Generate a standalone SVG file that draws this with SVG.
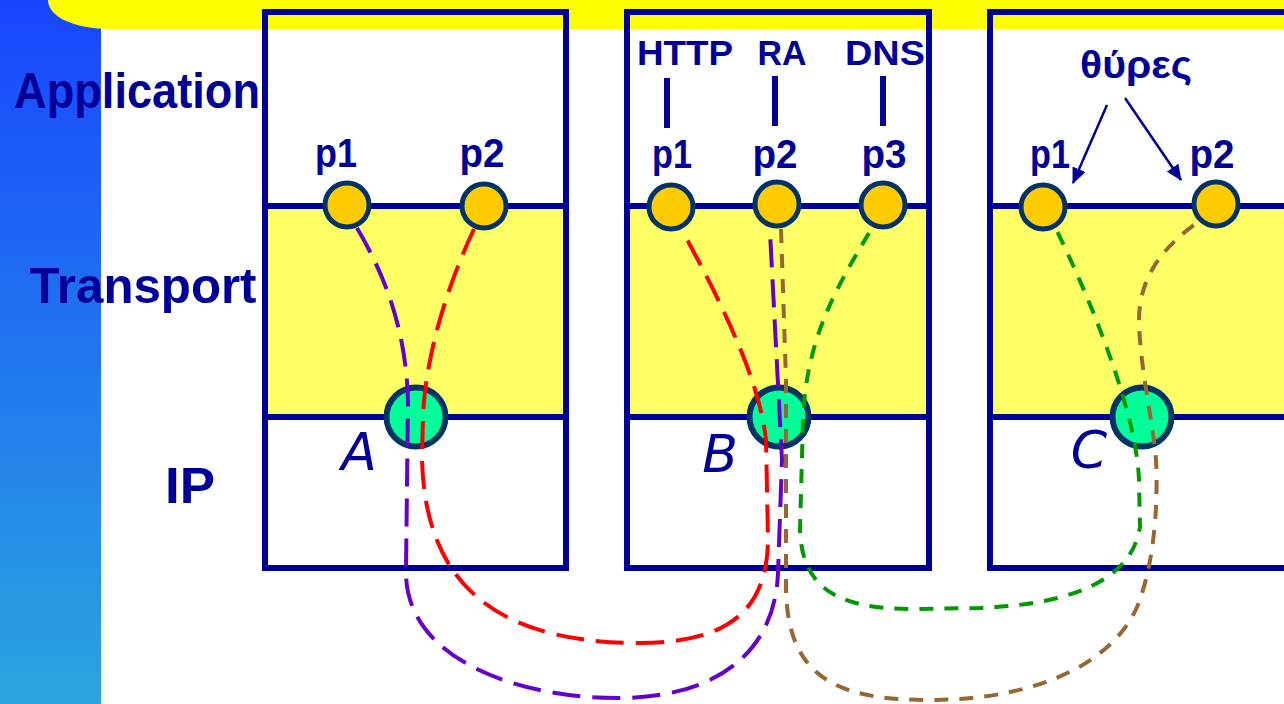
<svg xmlns="http://www.w3.org/2000/svg" width="1284" height="704" viewBox="0 0 1284 704">
<defs>
<linearGradient id="band" x1="0" y1="0" x2="0" y2="1">
<stop offset="0" stop-color="#1846ff"/>
<stop offset="1" stop-color="#2aa6df"/>
</linearGradient>
<marker id="ah" markerWidth="16" markerHeight="14" refX="15" refY="7" orient="auto" markerUnits="userSpaceOnUse">
<path d="M0,0 L16,7 L0,14 Z" fill="#000099"/>
</marker>
<style>
.lbl{font-family:"Liberation Sans","DejaVu Sans",sans-serif;font-weight:bold;fill:#000099;text-anchor:middle}
.big{font-size:50px}
.port{font-size:40px}
.proto{font-size:35px}
.greek{font-size:38px}
.node{font-family:"DejaVu Sans","Liberation Sans",sans-serif;font-style:italic;font-size:52px;fill:#000099;text-anchor:middle}
.box{fill:none;stroke:#000099;stroke-width:6}
.tr{fill:#ffff66}
.div{stroke:#000099;stroke-width:6}
.pt{fill:#ffcc00;stroke:#003366;stroke-width:5}
.ip{fill:#00ff99;stroke:#003366;stroke-width:6}
.c{fill:none;stroke-width:4}
.long{stroke-dasharray:28 12}
.short{stroke-dasharray:14 11}
.bar{stroke:#000099;stroke-width:6}
.arr{stroke:#000099;stroke-width:2.5;fill:none}
</style>
</defs>
<rect width="1284" height="704" fill="#ffffff"/>
<rect x="0" y="0" width="101" height="704" fill="url(#band)"/>
<rect class="tr" x="265" y="206" width="301" height="211"/>
<rect class="tr" x="627" y="206" width="302" height="211"/>
<rect class="tr" x="990" y="206" width="300" height="211"/>
<path d="M48 0 H1284 V29 H112 C72 29 48 16 48 0 Z" fill="#ffff00"/>
<g id="layers">
<text class="lbl big" x="137" y="108" textLength="246" lengthAdjust="spacingAndGlyphs">Application</text>
<text class="lbl big" x="143" y="303" textLength="227" lengthAdjust="spacingAndGlyphs">Transport</text>
<text class="lbl big" x="190" y="503" textLength="50" lengthAdjust="spacingAndGlyphs">IP</text>
</g>
<g id="hostA">
<rect class="box" x="265" y="12" width="301" height="556"/>
<line class="div" x1="265" y1="206" x2="566" y2="206"/>
<line class="div" x1="265" y1="417" x2="566" y2="417"/>
<circle class="pt" cx="347" cy="205" r="22"/>
<circle class="pt" cx="484" cy="206" r="22"/>
<circle class="ip" cx="416" cy="417" r="29.5"/>
<text class="lbl port" x="336" y="167" textLength="42" lengthAdjust="spacingAndGlyphs">p1</text>
<text class="lbl port" x="482" y="167" textLength="45" lengthAdjust="spacingAndGlyphs">p2</text>
<text class="node" x="359" y="470">A</text>
</g>
<g id="hostB">
<rect class="box" x="627" y="12" width="302" height="556"/>
<line class="div" x1="627" y1="206" x2="929" y2="206"/>
<line class="div" x1="627" y1="417" x2="929" y2="417"/>
<circle class="pt" cx="671" cy="207" r="22"/>
<circle class="pt" cx="777" cy="204" r="22"/>
<circle class="pt" cx="883" cy="205" r="22"/>
<circle class="ip" cx="779" cy="417" r="29.5"/>
<text class="lbl proto" x="685" y="65" textLength="96" lengthAdjust="spacingAndGlyphs">HTTP</text>
<text class="lbl proto" x="782" y="65" textLength="49" lengthAdjust="spacingAndGlyphs">RA</text>
<text class="lbl proto" x="885" y="65" textLength="80" lengthAdjust="spacingAndGlyphs">DNS</text>
<line class="bar" x1="667" y1="78" x2="667" y2="128"/>
<line class="bar" x1="775" y1="76" x2="775" y2="126"/>
<line class="bar" x1="883" y1="76" x2="883" y2="126"/>
<text class="lbl port" x="672" y="168" textLength="40" lengthAdjust="spacingAndGlyphs">p1</text>
<text class="lbl port" x="775" y="168" textLength="45" lengthAdjust="spacingAndGlyphs">p2</text>
<text class="lbl port" x="884" y="168" textLength="45" lengthAdjust="spacingAndGlyphs">p3</text>
<text class="node" x="720" y="472">B</text>
</g>
<g id="hostC">
<rect class="box" x="990" y="12" width="310" height="556"/>
<line class="div" x1="990" y1="206" x2="1290" y2="206"/>
<line class="div" x1="990" y1="417" x2="1290" y2="417"/>
<circle class="pt" cx="1043" cy="207" r="22"/>
<circle class="pt" cx="1216" cy="204" r="22"/>
<circle class="ip" cx="1142" cy="417" r="29.5"/>
<text class="lbl greek" x="1136" y="78" textLength="112" lengthAdjust="spacingAndGlyphs">θύρες</text>
<line class="arr" x1="1107" y1="105" x2="1073" y2="183" marker-end="url(#ah)"/>
<line class="arr" x1="1125" y1="98" x2="1181" y2="180" marker-end="url(#ah)"/>
<text class="lbl port" x="1050" y="168" textLength="40" lengthAdjust="spacingAndGlyphs">p1</text>
<text class="lbl port" x="1212" y="168" textLength="45" lengthAdjust="spacingAndGlyphs">p2</text>
<text class="node" x="1089" y="468">C</text>
</g>
<g id="connectors">
<path class="c long" stroke="#6600cc" d="M357 228 C385 275 406 330 408 400 L406 570 C404 660 520 698 617 698 C720 698 775 650 778 573 L782 460 L770 232"/>
<path class="c long" stroke="#ff0000" d="M474 229 C450 280 426 350 423 416 L422 460 C425 560 470 643 640 643 C740 643 767 600 768 540 L766 440 C760 380 720 300 683 232"/>
<path class="c short" stroke="#009900" d="M869 233 C835 290 806 340 803 420 L800 530 C802 590 840 609 913 609 L980 608 C1050 605 1130 590 1140 527 L1139 480 C1137 420 1100 320 1057 231"/>
<path class="c short" stroke="#996633" d="M781 229 L786 380 L786 590 C788 680 840 700 930 700 C1040 700 1125 660 1143 590 C1155 550 1158 500 1156 460 C1153 420 1140 370 1139 320 C1139 280 1160 250 1194 225"/>
</g>
</svg>
